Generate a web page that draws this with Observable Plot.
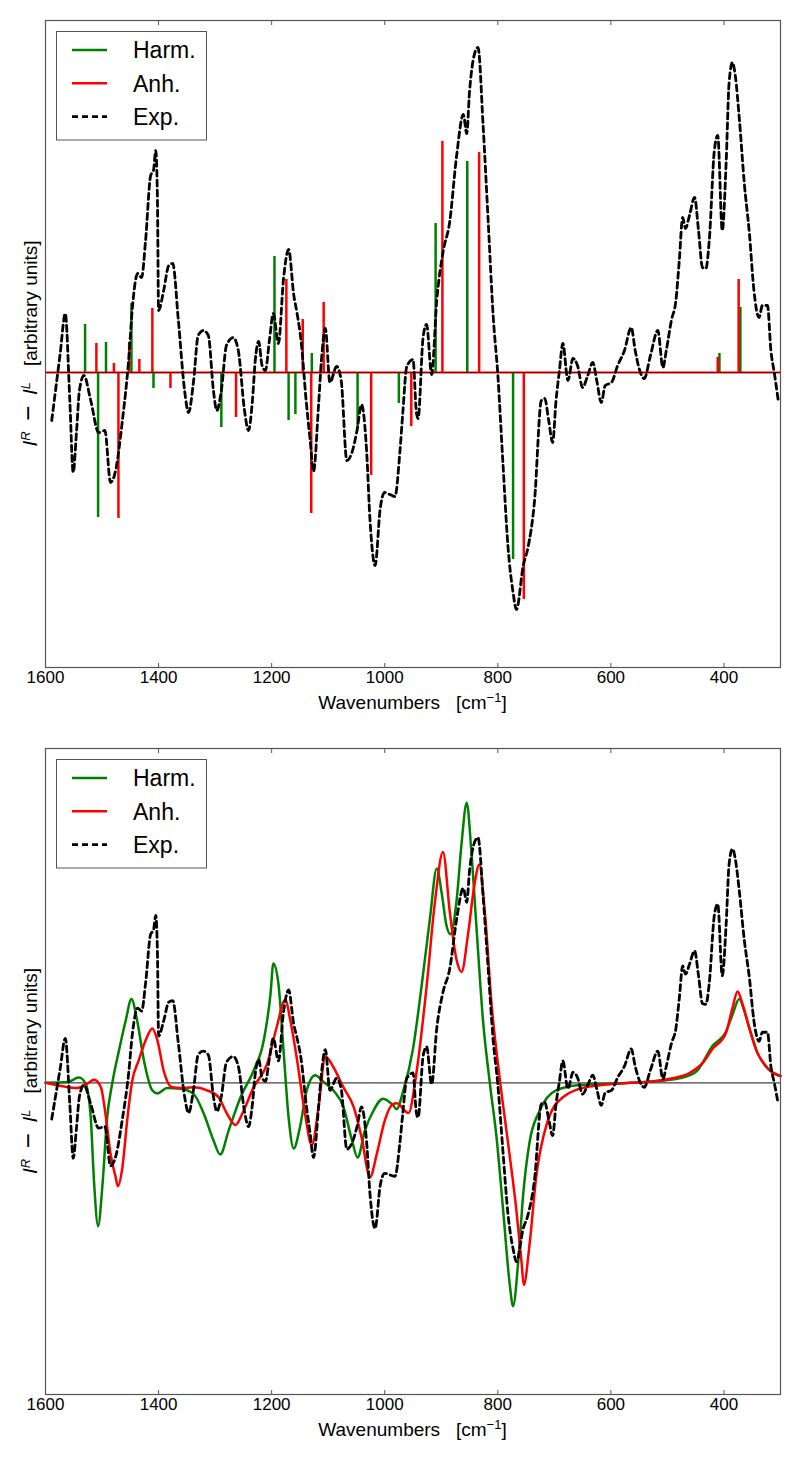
<!DOCTYPE html>
<html>
<head>
<meta charset="utf-8">
<script src="https://cdn.jsdelivr.net/npm/d3@7"></script>
<script src="https://cdn.jsdelivr.net/npm/@observablehq/plot@0.6"></script>
<style>
  body { margin: 0; background: #fff; }
  #chart svg { display: block; }
</style>
</head>
<body>
<div id="chart"></div>
<script>
// ---------------- DATA ----------------
const xTicks = [1600, 1400, 1200, 1000, 800, 600, 400];
const legendLabels = ["Harm.", "Anh.", "Exp."];

// Experimental ROA spectrum [wavenumber, I^R - I^L] (same in both panels)
const expSpectrum = [
  [1589,-0.48],[1574,0.19],[1565,0.59],[1557,-0.28],[1551,-1.00],[1545,-0.58],[1540,-0.18],[1532,-0.03],
  [1520,-0.28],[1506,-0.60],[1495,-0.58],[1485,-1.10],[1476,-0.98],[1464,-0.48],[1453,0.12],[1446,0.67],
  [1437,0.99],[1430,0.95],[1423,1.32],[1414,1.97],[1409,2.02],[1405,2.22],[1402,1.72],[1400,0.62],
  [1391,0.82],[1382,1.07],[1375,1.09],[1365,0.52],[1354,-0.18],[1347,-0.40],[1338,-0.08],[1330,0.37],
  [1321,0.42],[1312,0.37],[1303,-0.18],[1297,-0.38],[1289,-0.18],[1280,0.27],[1268,0.35],[1259,0.22],
  [1248,-0.38],[1241,-0.58],[1234,-0.28],[1229,0.12],[1223,0.31],[1217,0.07],[1211,0.02],[1204,0.32],
  [1197,0.59],[1188,0.29],[1179,0.94],[1170,1.23],[1161,0.78],[1155,0.59],[1148,0.32],[1139,-0.28],
  [1132,-0.67],[1126,-0.99],[1117,-0.32],[1112,0.12],[1105,0.44],[1097,-0.10],[1085,0.06],[1077,-0.08],
  [1067,-0.88],[1058,-0.80],[1049,-0.58],[1041,-0.32],[1032,-0.79],[1026,-1.48],[1017,-1.93],[1008,-1.36],
  [1000,-1.20],[991,-1.22],[982,-1.24],[973,-0.78],[968,-0.40],[961,0.06],[950,0.13],[944,-0.40],
  [941,-0.46],[932,0.36],[926,0.48],[917,-0.02],[908,0.72],[897,1.20],[885,1.51],[873,2.16],
  [861,2.58],[855,2.39],[850,2.81],[841,3.19],[835,3.25],[826,2.47],[817,1.51],[808,0.55],
  [800,-0.02],[791,-0.90],[782,-1.74],[773,-2.20],[767,-2.37],[755,-1.93],[747,-1.76],[735,-1.28],
  [723,-0.28],[717,-0.26],[710,-0.48],[703,-0.70],[697,-0.28],[691,0.02],[685,0.29],[676,-0.08],
  [667,0.14],[659,0.07],[650,-0.15],[641,-0.03],[632,0.10],[625,-0.08],[617,-0.30],[610,-0.13],
  [599,-0.10],[588,0.07],[576,0.22],[564,0.45],[557,0.22],[549,0.02],[541,-0.06],[530,0.17],
  [517,0.42],[508,0.05],[502,0.22],[493,0.52],[485,0.72],[479,1.12],[473,1.55],[468,1.44],
  [461,1.57],[452,1.75],[445,1.42],[438,1.05],[432,1.04],[426,1.32],[417,2.22],[411,2.37],
  [403,1.42],[396,2.12],[391,2.89],[385,3.10],[380,2.97],[373,2.55],[364,1.89],[355,1.39],
  [347,0.82],[338,0.55],[332,0.67],[323,0.67],[317,0.22],[311,0.00],[304,-0.28]
];

// Panel 1: narrow-band computed bands [wavenumber, intensity]
const harmSticks = [
  [1530,0.48],[1507,-1.45],[1493,0.30],[1448,0.69],[1409,-0.16],[1289,-0.55],[1195,1.16],[1170,-0.48],
  [1158,-0.42],[1129,0.19],[1048,-0.56],[975,-0.31],[910,1.49],[854,2.11],[773,-1.87],[408,0.19],[371,0.65]
];
const anhSticks = [
  [1510,0.29],[1479,0.09],[1471,-1.46],[1452,0.30],[1434,0.13],[1411,0.64],[1379,-0.16],[1263,-0.45],
  [1174,0.93],[1145,0.53],[1130,-1.41],[1108,0.70],[1024,-1.03],[953,-0.54],[898,2.31],[833,2.20],
  [754,-2.27],[411,0.15],[374,0.93]
];

// Panel 2: broadened computed spectra [wavenumber, intensity]
const harmBroad = [
  [1600,0.00],[1561,0.01],[1541,0.07],[1529,-0.01],[1520,-0.46],[1514,-1.33],[1507,-1.90],[1499,-1.33],
  [1491,-0.46],[1482,-0.01],[1470,0.43],[1458,0.83],[1448,1.11],[1438,0.83],[1426,0.30],[1411,-0.10],
  [1402,-0.14],[1385,-0.07],[1361,-0.08],[1338,-0.15],[1320,-0.41],[1303,-0.76],[1291,-0.95],[1276,-0.63],
  [1255,-0.19],[1232,0.16],[1214,0.56],[1202,1.18],[1197,1.58],[1188,1.31],[1179,0.43],[1170,-0.46],
  [1161,-0.87],[1150,-0.59],[1138,-0.10],[1123,0.10],[1108,0.01],[1091,-0.10],[1073,-0.32],[1058,-0.76],
  [1048,-0.99],[1035,-0.63],[1020,-0.37],[1003,-0.21],[985,-0.30],[979,-0.35],[967,-0.10],[950,0.45],
  [935,1.27],[920,2.18],[908,2.84],[899,2.50],[891,2.09],[884,1.97],[873,2.41],[864,3.18],
  [855,3.71],[847,3.09],[838,2.09],[826,0.81],[814,-0.01],[802,-0.74],[791,-1.65],[779,-2.66],
  [773,-2.96],[764,-2.38],[755,-1.47],[744,-0.79],[726,-0.37],[697,-0.10],[655,-0.03],[597,-0.01],
  [538,0.01],[479,0.06],[449,0.15],[420,0.49],[397,0.67],[385,0.90],[373,1.11],[364,0.95],
  [355,0.72],[341,0.40],[326,0.22],[304,0.10],[300,0.09]
];
const anhBroad = [
  [1600,0.00],[1567,-0.05],[1544,-0.07],[1526,-0.01],[1514,0.04],[1502,-0.06],[1494,-0.41],[1485,-0.94],
  [1476,-1.25],[1472,-1.37],[1464,-1.12],[1455,-0.46],[1447,0.01],[1435,0.30],[1423,0.56],[1411,0.72],
  [1402,0.56],[1391,0.16],[1376,-0.06],[1361,-0.07],[1338,-0.06],[1314,-0.10],[1294,-0.19],[1279,-0.41],
  [1264,-0.56],[1252,-0.41],[1232,-0.06],[1208,0.25],[1191,0.74],[1176,1.10],[1167,0.83],[1155,0.30],
  [1141,-0.41],[1129,-0.83],[1117,-0.32],[1105,0.35],[1091,0.21],[1073,-0.06],[1055,-0.32],[1041,-0.72],
  [1026,-1.25],[1014,-0.94],[1000,-0.50],[985,-0.28],[979,-0.27],[958,-0.40],[944,0.13],[926,1.27],
  [911,2.41],[897,3.06],[885,2.27],[873,1.63],[864,1.47],[853,1.95],[841,2.64],[833,2.89],
  [823,2.27],[811,1.04],[797,0.08],[782,-0.79],[767,-1.70],[758,-2.38],[754,-2.68],[744,-2.15],
  [732,-1.24],[714,-0.56],[685,-0.19],[638,-0.05],[567,0.00],[538,0.01],[491,0.06],[461,0.13],
  [438,0.26],[420,0.45],[397,0.65],[385,0.99],[376,1.21],[367,1.04],[355,0.72],[341,0.40],
  [326,0.22],[304,0.10],[300,0.09]
];

// ---------------- STYLE ----------------
const FONT = "'Liberation Sans', Arial, Helvetica, sans-serif";
const GREEN = "#008000", RED = "#ff0000", BLACK = "#000000", FRAME = "#555555";
const DASH = "6,4";
const wx = d => d[0], vy = d => d[1];

function decorate(svg, {height, marginTop, marginBottom}) {
  const s = d3.select(svg);
  const frameBottom = height - marginBottom;
  const cy = (marginTop + frameBottom) / 2;
  // x label
  const xl = s.append("text")
    .attr("x", (45 + 780) / 2).attr("y", frameBottom + 35).attr("dy", "0.35em")
    .attr("text-anchor", "middle").attr("font-size", 19).attr("font-family", FONT)
    .style("white-space", "pre").attr("fill", "#000");
  xl.append("tspan").text("Wavenumbers   [cm");
  xl.append("tspan").attr("baseline-shift", "super").attr("font-size", 13).text("\u22121");
  xl.append("tspan").text("]");
  // y label
  const yl = s.append("text")
    .attr("transform", `translate(30,${cy}) rotate(-90)`).attr("dy", "0.35em")
    .attr("text-anchor", "middle").attr("font-size", 19).attr("font-family", FONT)
    .style("white-space", "pre").attr("fill", "#000");
  yl.append("tspan").attr("font-style", "italic").attr("font-size", 21).text("I");
  yl.append("tspan").attr("baseline-shift", "super").attr("font-size", 13).attr("font-style", "italic").text("R");
  yl.append("tspan").text("  ");
  yl.append("tspan").attr("font-size", 26).text("\u2212");
  yl.append("tspan").text("  ");
  yl.append("tspan").attr("font-style", "italic").attr("font-size", 21).text("I");
  yl.append("tspan").attr("baseline-shift", "super").attr("font-size", 13).attr("font-style", "italic").text("L");
  yl.append("tspan").text("   [arbitrary units]");
  // legend
  const lg = s.append("g").attr("font-family", FONT).attr("text-anchor", "start");
  lg.append("rect").attr("x", 56.5).attr("y", marginTop + 11.5).attr("width", 150).attr("height", 108.5)
    .attr("fill", "#fff").attr("stroke", FRAME).attr("stroke-width", 1);
  const styles = [[GREEN, null], [RED, null], [BLACK, DASH]];
  legendLabels.forEach((lab, i) => {
    const y = marginTop + 30 + i * 33.3;
    const ln = lg.append("line").attr("x1", 72).attr("x2", 107).attr("y1", y).attr("y2", y)
      .attr("stroke", styles[i][0]).attr("stroke-width", styles[i][1] ? 2.8 : 2.5);
    if (styles[i][1]) ln.attr("stroke-dasharray", styles[i][1]);
    lg.append("text").attr("x", 133).attr("y", y).attr("dy", "0.36em").attr("font-size", 23)
      .attr("text-anchor", "start").attr("fill", "#000").text(lab);
  });
  return svg;
}

function panel({height, marginTop, marginBottom, yDomain, marks}) {
  const svg = Plot.plot({
    width: 800, height, marginLeft: 45, marginRight: 20, marginTop, marginBottom,
    style: {fontFamily: FONT, fontSize: "17px", color: "#000", background: "#fff"},
    x: {domain: [1600, 300]},
    y: {domain: yDomain, axis: null},
    marks: [
      ...marks,
      Plot.frame({stroke: FRAME, strokeWidth: 1.2}),
      Plot.axisX({anchor: "bottom", ticks: xTicks, tickSize: 0, tickPadding: 3, label: null, fontSize: 17, tickFormat: d => String(d)}),
      Plot.axisX({anchor: "bottom", ticks: xTicks, tickSize: -4, tickFormat: () => "", label: null, stroke: FRAME}),
      Plot.axisX({anchor: "top", ticks: xTicks, tickSize: -4, tickFormat: () => "", label: null, stroke: FRAME})
    ]
  });
  return decorate(svg, {height, marginTop, marginBottom});
}

const topPanel = panel({
  height: 720, marginTop: 20, marginBottom: 53, yDomain: [-2.95, 3.52],
  marks: [
    Plot.ruleY([0], {stroke: RED, strokeWidth: 2}),
    Plot.ruleX(harmSticks, {x: wx, y1: 0, y2: vy, stroke: GREEN, strokeWidth: 2.5}),
    Plot.ruleX(anhSticks, {x: wx, y1: 0, y2: vy, stroke: RED, strokeWidth: 2.5}),
    Plot.ruleY([0], {stroke: BLACK, strokeWidth: 1, strokeOpacity: 0.5}),
    Plot.line(expSpectrum, {x: wx, y: vy, stroke: BLACK, strokeWidth: 2.8, strokeDasharray: DASH, curve: "monotone-x"})
  ]
});

const bottomPanel = panel({
  height: 740, marginTop: 28, marginBottom: 66, yDomain: [-4.13, 4.43],
  marks: [
    Plot.ruleY([0], {stroke: "#444", strokeWidth: 1.2}),
    Plot.line(harmBroad, {x: wx, y: vy, stroke: GREEN, strokeWidth: 2.5, curve: "monotone-x"}),
    Plot.line(anhBroad, {x: wx, y: vy, stroke: RED, strokeWidth: 2.5, curve: "monotone-x"}),
    Plot.line(expSpectrum, {x: wx, y: vy, stroke: BLACK, strokeWidth: 2.8, strokeDasharray: DASH, curve: "monotone-x"})
  ]
});

document.getElementById("chart").append(topPanel, bottomPanel);
</script>
</body>
</html>
